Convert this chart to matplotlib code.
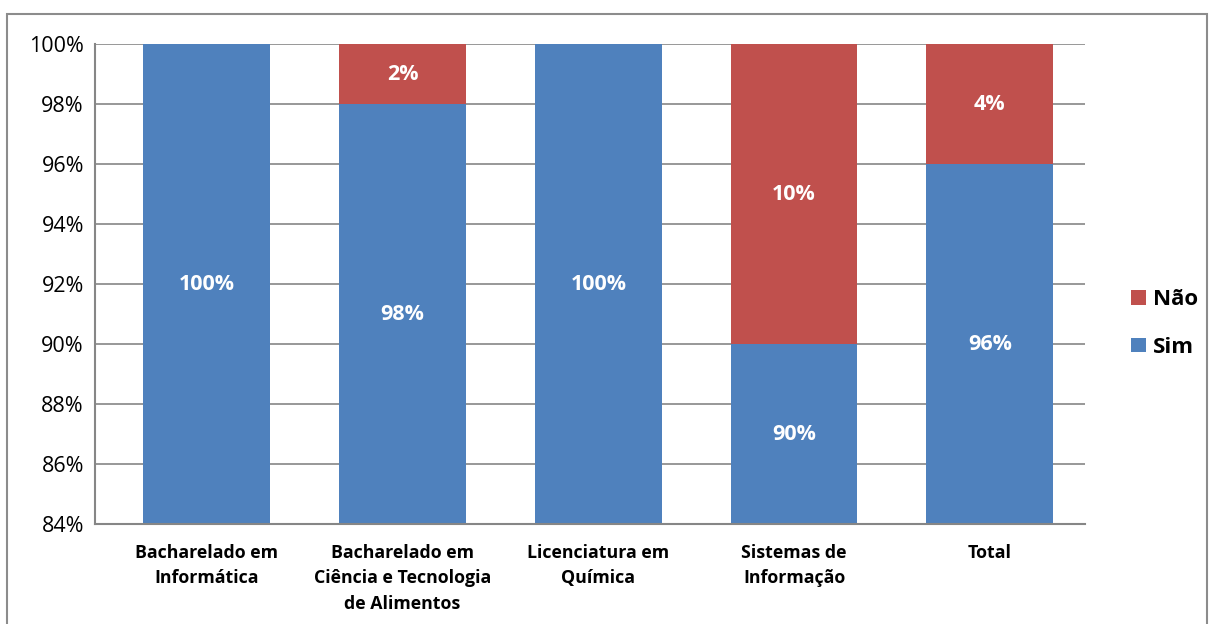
import matplotlib.pyplot as plt
from matplotlib.patches import Rectangle

plt.rcParams['font.family'] = ['Open Sans', 'DejaVu Sans']

categories = ['Bacharelado em\nInformática',
              'Bacharelado em\nCiência e Tecnologia\nde Alimentos',
              'Licenciatura em\nQuímica',
              'Sistemas de\nInformação',
              'Total']
sim = [100, 98, 100, 90, 96]
nao = [0, 2, 0, 10, 4]
yticks = [84, 86, 88, 90, 92, 94, 96, 98, 100]

BLUE = '#4F81BD'
RED = '#C0504D'
GRID = '#868686'
YMIN, YMAX = 84, 100

fig = plt.figure(figsize=(12.12, 6.24), dpi=100)
fig.patches.append(Rectangle((0.006, -0.01), 0.99, 0.987, transform=fig.transFigure,
                             fill=False, edgecolor='#8c8c8c', linewidth=1.5))
ax = fig.add_axes([0.0784, 0.160, 0.8166, 0.7695])

x = range(len(categories))
w = 0.648
b1 = ax.bar(x, sim, width=w, color=BLUE, label='Sim', zorder=2)
b2 = ax.bar(x, nao, width=w, bottom=sim, color=RED, label='Não', zorder=2)

for i in x:
    ax.text(i, (YMIN + sim[i]) / 2, '%d%%' % sim[i], ha='center', va='center',
            color='white', fontsize=15.5, fontweight='bold', zorder=3)
    if nao[i] > 0:
        ax.text(i, sim[i] + nao[i] / 2, '%d%%' % nao[i], ha='center', va='center',
                color='white', fontsize=15.5, fontweight='bold', zorder=3)

ax.set_ylim(YMIN, YMAX)
ax.set_xlim(-0.571, len(categories) - 0.515)
ax.set_yticks(yticks)
ax.set_yticklabels(['%d%%' % t for t in yticks], fontsize=15.5)
ax.set_xticks(list(x))
ax.set_xticklabels(categories, fontsize=12.8, fontweight='bold', linespacing=1.55)
ax.tick_params(axis='x', length=0, pad=14)
ax.tick_params(axis='y', length=0, pad=8)
ax.yaxis.grid(True, color=GRID, linewidth=1.2, zorder=0)
for s in ax.spines.values():
    s.set_color(GRID)
    s.set_linewidth(1.5)
ax.spines['top'].set_visible(False)
ax.spines['right'].set_visible(False)

leg = ax.legend([b2, b1], ['Não', 'Sim'], loc='center left', bbox_to_anchor=(1.027, 0.418),
                frameon=False, handlelength=0.65, handleheight=0.65, handletextpad=0.3,
                labelspacing=1.2, prop={'size': 16, 'weight': 'bold'})

fig.savefig('out.png', dpi=100)
